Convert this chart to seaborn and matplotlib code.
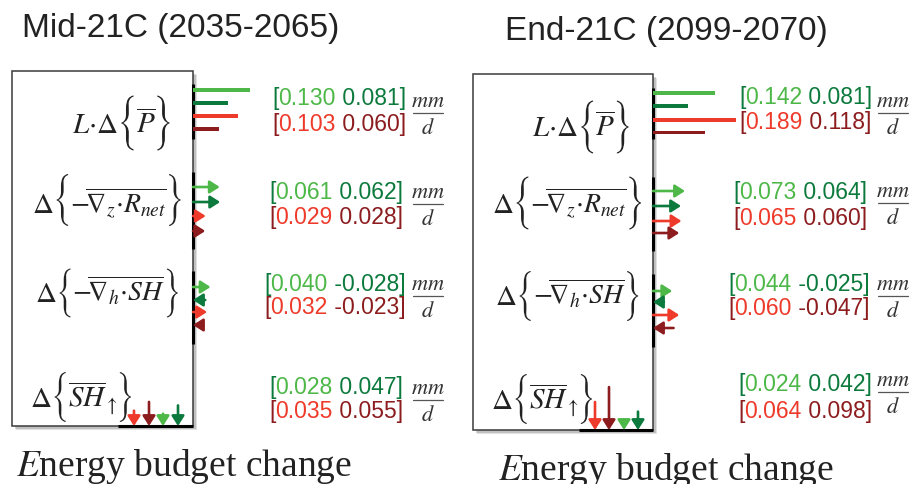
import numpy as np
import pandas as pd
import matplotlib
matplotlib.use("Agg")
import matplotlib.pyplot as plt
import seaborn as sns
from matplotlib.patches import Rectangle, PathPatch
from matplotlib.textpath import TextPath
from matplotlib.font_manager import FontProperties
from matplotlib.transforms import Affine2D

sns.set_theme(style="white")
plt.rcParams['font.family'] = ['Liberation Sans', 'DejaVu Sans']
plt.rcParams['mathtext.fontset'] = 'stix'

# ---------------- data ----------------
periods = ["Mid-21C (2035-2065)", "End-21C (2099-2070)"]
series = ["model A low", "model A high", "model B low", "model B high"]
term_prefix = [r"$L{\cdot}\Delta$", r"$\Delta$", r"$\Delta$", r"$\Delta$"]
term_body = [r"$\overline{P}$",
             r"${-}\!\overline{\nabla_z{\cdot}R_{net}}$",
             r"${-}\!\overline{\nabla_h{\cdot}SH}$",
             r"$\overline{SH}_{\uparrow}$"]
bottom_label = r"$E$nergy budget change"
unit_num = r"$mm$"
unit_den = r"$d$"

# order in each list: [light green, dark green, red, dark red]
mid_P = [0.130, 0.081, 0.103, 0.060]
mid_Rnet = [0.061, 0.062, 0.029, 0.028]
mid_SHh = [0.040, -0.028, 0.032, -0.023]
mid_SHup = [0.028, 0.047, 0.035, 0.055]
end_P = [0.142, 0.081, 0.189, 0.118]
end_Rnet = [0.073, 0.064, 0.065, 0.060]
end_SHh = [0.044, -0.025, 0.060, -0.047]
end_SHup = [0.024, 0.042, 0.064, 0.098]

mid_labels = [["0.130", "0.081", "0.103", "0.060"],
              ["0.061", "0.062", "0.029", "0.028"],
              ["0.040", "-0.028", "0.032", "-0.023"],
              ["0.028", "0.047", "0.035", "0.055"]]
end_labels = [["0.142", "0.081", "0.189", "0.118"],
              ["0.073", "0.064", "0.065", "0.060"],
              ["0.044", "-0.025", "0.060", "-0.047"],
              ["0.024", "0.042", "0.064", "0.098"]]

# ---------------- styles ----------------
colors = ["#4DB848", "#0C7A3C", "#EE3A2A", "#8C1C1E"]
palette = dict(zip(series, colors))
TXT = "#222222"
S = 438.0  # pixels per mm/d
W, H = 914, 485
PRE_FS = 21
BODY_FS = [21, 20, 20, 21]

fig = plt.figure(figsize=(W / 100, H / 100), dpi=100)
renderer = fig.canvas.get_renderer()

brace_prop = FontProperties(family=["STIXSizeTwoSym", "STIXGeneral", "DejaVu Serif"])
brace_paths = {ch: TextPath((0, 0), ch, size=1, prop=brace_prop) for ch in "{}"}

layouts = [
    dict(ax_px=(0, 457), box=(12, 72, 193, 427),
         p_y=[91, 104, 117, 130], r_y=[188, 203, 217, 232], h_y=[288, 301, 313, 326],
         v_x=[-30, -15, -59, -44],
         seg=[(85, 140), (173, 250), (272, 345)], bseg=118,
         term_x=[72, 32, 35, 30], term_c=[124, 201, 294, 398], term_b=[133, 213, 302, 407],
         brace_h=[55, 52, 49, 50],
         txt_x=[272, 269, 264, 269], txt_y=[(99, 125), (193, 218), (285, 308), (388, 412)],
         frac_x=428, frac_y=[114, 205, 297, 401],
         title=(22, 37), label=(184, 476),
         vals=[mid_P, mid_Rnet, mid_SHh, mid_SHup], labels=mid_labels),
    dict(ax_px=(457, 914), box=(473, 75, 653, 431),
         p_y=[94, 107, 121, 133], r_y=[192, 207, 222, 234], h_y=[292, 303, 316, 329],
         v_x=[-29, -15, -58, -44],
         seg=[(89, 140), (178, 252), (275, 348)], bseg=579,
         term_x=[532, 492, 495, 491], term_c=[128, 204, 297, 400], term_b=[136, 213, 305, 409],
         brace_h=[53, 53, 50, 50],
         txt_x=[739, 733, 728, 738], txt_y=[(98, 123), (193, 219), (285, 309), (385, 412)],
         frac_x=893, frac_y=[114, 204, 297, 393],
         title=(505, 40), label=(666, 480),
         vals=[end_P, end_Rnet, end_SHh, end_SHup], labels=end_labels),
]

for k, L in enumerate(layouts):
    ax0, ax1 = L["ax_px"]
    ax = fig.add_axes([ax0 / W, 0, (ax1 - ax0) / W, 1])
    bx0, by0, bx1, by1 = L["box"]
    ox, oy = bx1, by1

    def X(px):
        return (px - ox) / S

    def Y(py):
        return (oy - py) / S

    ax.set_xlim(X(ax0), X(ax1))
    ax.set_ylim(Y(H), Y(0))
    ax.axis("off")

    P, R, Hh, V = L["vals"]

    # shadow + box
    for off, a in [(4, 0.25), (2.5, 0.35)]:
        ax.add_patch(Rectangle((X(bx0 + off), Y(by1 + off)), (bx1 - bx0) / S, (by1 - by0) / S,
                               facecolor="#888888", edgecolor="none", alpha=a, zorder=0))
    ax.add_patch(Rectangle((X(bx0), Y(by1)), (bx1 - bx0) / S, (by1 - by0) / S,
                           facecolor="white", edgecolor="#3a3a3a", lw=1.1, zorder=1))

    # thick black segments on box edges
    for (a, b) in L["seg"]:
        ax.plot([0, 0], [Y(a), Y(b)], color="black", lw=2.2, solid_capstyle="butt", zorder=2)
    ax.plot([X(L["bseg"]), 0], [0, 0], color="black", lw=2.2, solid_capstyle="butt", zorder=2)

    # row 1: precipitation bars (seaborn barplot on native numeric scale)
    ypos = [Y(p) for p in L["p_y"]]
    df = pd.DataFrame({"value": P, "ypos": ypos, "series": series})
    spacing = np.min(np.diff(sorted(ypos)))
    sns.barplot(data=df, x="value", y="ypos", hue="series", hue_order=series,
                palette=palette, orient="h", native_scale=True, dodge=False,
                width=(3.0 / S) / spacing, linewidth=0, saturation=1,
                errorbar=None, legend=False, ax=ax, zorder=3)

    aprops = dict(arrowstyle="-|>,head_length=0.42,head_width=0.27", lw=1.9,
                  shrinkA=0, shrinkB=0, mutation_scale=14)
    # rows 2 and 3: horizontal arrows
    for vals, ys in [(R, L["r_y"]), (Hh, L["h_y"])]:
        for v, py, c in zip(vals, ys, colors):
            y = Y(py)
            if v >= 0:
                ax.annotate("", xy=(v, y), xytext=(0, y), arrowprops=dict(color=c, **aprops), zorder=3)
            else:
                ax.annotate("", xy=(0, y), xytext=(-v, y), arrowprops=dict(color=c, **aprops), zorder=3)
    # row 4: vertical arrows down into the box bottom
    for v, dx, c in zip(V, L["v_x"], colors):
        x = dx / S
        ax.annotate("", xy=(x, 0), xytext=(x, v), arrowprops=dict(color=c, **aprops), zorder=3)

    # term labels: prefix, tall brace, body, tall brace
    inv = ax.transData.inverted()

    def right_edge(artist):
        bb = artist.get_window_extent(renderer)
        return inv.transform((bb.x1, bb.y0))[0]

    def add_brace(ch, x_left, yc, hpx):
        tp = brace_paths[ch]
        ext = tp.get_extents()
        s = (hpx / S) / ext.height
        tr = Affine2D().translate(-ext.x0, -(ext.y0 + ext.height / 2)).scale(s).translate(x_left, yc)
        ax.add_patch(PathPatch(tr.transform_path(tp), facecolor=TXT, edgecolor="none", zorder=4))
        return x_left + ext.width * s

    for r in range(4):
        pre = ax.text(X(L["term_x"][r]), Y(L["term_b"][r]), term_prefix[r], ha="left",
                      va="baseline", fontsize=PRE_FS, color=TXT, zorder=4)
        xb = right_edge(pre) + 3 / S
        xb = add_brace("{", xb, Y(L["term_c"][r]), L["brace_h"][r])
        body = ax.text(xb + 2 / S, Y(L["term_b"][r]), term_body[r], ha="left",
                       va="baseline", fontsize=BODY_FS[r], color=TXT, zorder=4)
        xr = right_edge(body) + 2 / S
        add_brace("}", xr, Y(L["term_c"][r]), L["brace_h"][r])

    # numeric ranges
    for r in range(4):
        labs = L["labels"][r]
        for line, (i_lo, i_hi) in enumerate([(0, 1), (2, 3)]):
            py = L["txt_y"][r][line]
            t0 = ax.text(X(L["txt_x"][r]), Y(py), "[", ha="left", va="center",
                         fontsize=16.5, color=colors[i_hi])
            t1 = ax.annotate(labs[i_lo], xy=(1, 0), xycoords=t0, ha="left", va="bottom",
                             fontsize=16.5, color=colors[i_lo])
            ax.annotate(" " + labs[i_hi] + "]", xy=(1, 0), xycoords=t1, ha="left", va="bottom",
                        fontsize=16.5, color=colors[i_hi])
        fy = L["frac_y"][r]
        fx = L["frac_x"]
        ax.text(X(fx), Y(fy - 12), unit_num, ha="center", va="center", fontsize=16, color="#333333")
        ax.plot([X(fx - 15), X(fx + 15)], [Y(fy), Y(fy)], color="#555555", lw=0.9)
        ax.text(X(fx), Y(fy + 15), unit_den, ha="center", va="center", fontsize=16, color="#333333")

    # title and bottom label
    ax.text(X(L["title"][0]), Y(L["title"][1]), periods[k], ha="left", va="baseline",
            fontsize=24, color=TXT)
    ax.text(X(L["label"][0]), Y(L["label"][1]), bottom_label, ha="center", va="baseline",
            fontsize=27, color=TXT, family=["Liberation Serif", "DejaVu Serif"])

fig.savefig("out.png", dpi=100)
